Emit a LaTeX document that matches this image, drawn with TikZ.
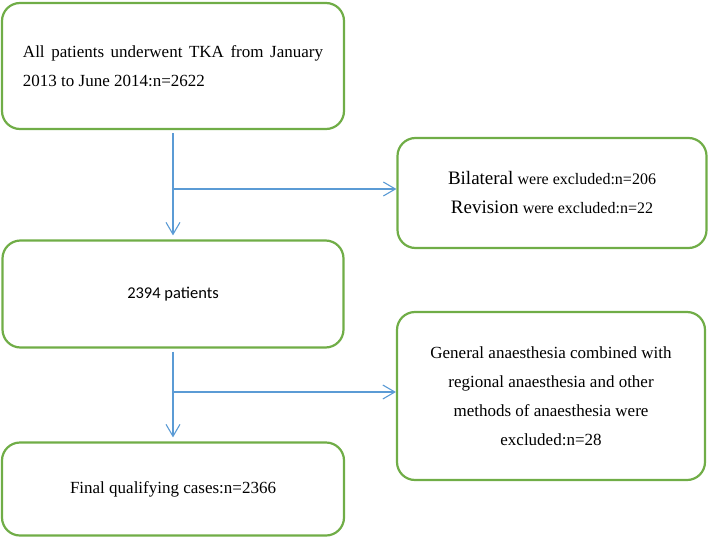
\documentclass[tikz,border=0pt]{standalone}
\usepackage{xcolor}
\usepackage{fontspec}
\setmainfont{Liberation Serif}
\newfontfamily\sansbox{Carlito}
\usepackage{tikz}
\usetikzlibrary{arrows.meta}

\definecolor{boxgreen}{RGB}{112,173,71}
\definecolor{flowblue}{RGB}{91,155,213}

\begin{document}
\begin{tikzpicture}[x=1pt, y=-1pt, >={Straight Barb[length=12pt,width=14pt]},
  box/.style={draw=boxgreen, line width=2.2pt, rounded corners=18pt, inner sep=0pt,
    font=\fontsize{17}{29}\selectfont},
  flow/.style={flowblue, line width=1.1pt}]

  \useasboundingbox (0,0) rectangle (712,538);

  \node [box, minimum width=342, minimum height=126, text width=300, align=justify] (all) at (173,66)
    {All patients underwent TKA from January\linebreak 2013 to June 2014:n=2622};
  \node [box, minimum width=309, minimum height=110, align=center] (bilat) at (552,193)
    {{\fontsize{19}{29}\selectfont Bilateral} {\fontsize{16}{29}\selectfont were excluded:n=206}\\
     {\fontsize{19}{29}\selectfont Revision} {\fontsize{16}{29}\selectfont were excluded:n=22}};
  \node [box, minimum width=341, minimum height=107, font=\sansbox\fontsize{16.5}{20}\selectfont] (pat) at (173,294)
    {2394 patients};
  \node [box, minimum width=308, minimum height=168, align=center] (anaes) at (551,396)
    {General anaesthesia combined with\\ regional anaesthesia and other\\ methods of anaesthesia were\\ excluded:n=28};
  \node [box, minimum width=342, minimum height=93] (final) at (173,489)
    {Final qualifying cases:n=2366};

  \coordinate (j1) at (173,189);
  \coordinate (j2) at (173,392);

  \draw [flow, ->, shorten <=3pt, shorten >=4pt] (all) -- (pat);
  \draw [flow, ->] (j1) -- (j1 -| bilat.west);
  \draw [flow, ->, shorten <=3pt, shorten >=4pt] (pat) -- (final);
  \draw [flow, ->] (j2) -- (j2 -| anaes.west);

\end{tikzpicture}
\end{document}
